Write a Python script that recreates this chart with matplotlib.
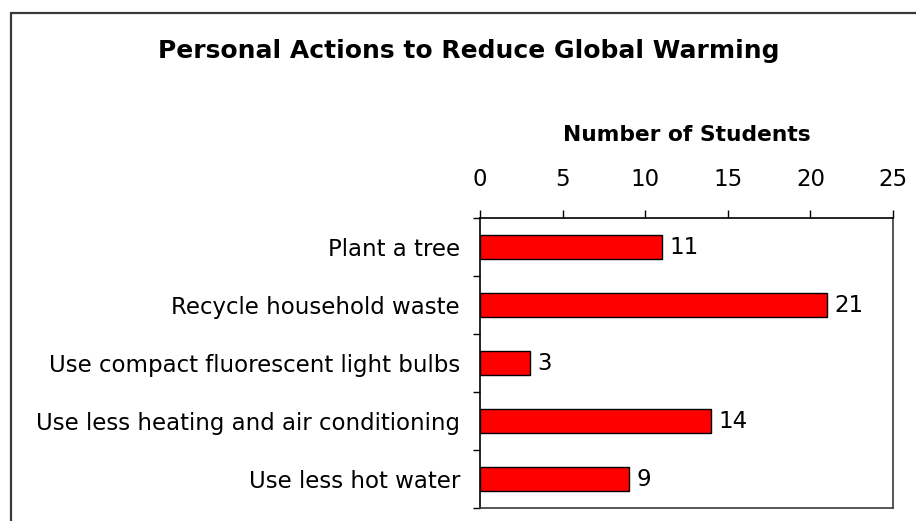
import matplotlib
matplotlib.use("Agg")
import matplotlib.pyplot as plt
from matplotlib.patches import Rectangle
from matplotlib.ticker import FixedLocator, NullFormatter

categories = ["Plant a tree", "Recycle household waste",
              "Use compact fluorescent light bulbs",
              "Use less heating and air conditioning", "Use less hot water"]
values = [11, 21, 3, 14, 9]
x_ticks = [0, 5, 10, 15, 20, 25]
title = "Personal Actions to Reduce Global Warming"
x_label = "Number of Students"

plt.rcParams['font.family'] = ['DejaVu Sans']
W, H = 916, 521
fig = plt.figure(figsize=(W / 100, H / 100), dpi=100)

# outer chart border (cropped at right and bottom)
fig.patches.append(Rectangle((11 / W, -0.2), 1.2, 1 - 13 / H + 0.2,
                             transform=fig.transFigure, fill=False,
                             edgecolor='#3a3a3a', linewidth=1.6))

L, R, T, B = 480, 893, 218, 508
ax = fig.add_axes([L / W, 1 - B / H, (R - L) / W, (B - T) / H])

pos = list(range(len(categories)))
bars = ax.barh(pos, values, height=0.4, color='#ff0000',
               edgecolor='black', linewidth=1.0)
ax.set_xlim(0, 25)
ax.set_ylim(len(categories) - 0.5, -0.5)

ax.xaxis.tick_top()
ax.set_xticks(x_ticks)
ax.set_xticklabels([str(t) for t in x_ticks])
ax.tick_params(axis='x', direction='out', length=5.8, width=1.0,
               pad=14, labelsize=16.5, colors='black')

ax.yaxis.set_major_locator(FixedLocator([p - 0.5 for p in pos] + [len(pos) - 0.5]))
ax.yaxis.set_major_formatter(NullFormatter())
ax.set_yticks(pos, minor=True)
ax.set_yticklabels(categories, minor=True)
ax.tick_params(axis='y', which='major', direction='out', length=5, width=1.0)
ax.tick_params(axis='y', which='minor', length=0, pad=14.4, labelsize=16.5)

for s in ax.spines.values():
    s.set_linewidth(1.2)
    s.set_color('black')
ax.spines['right'].set_color('#3a3a3a')
ax.spines['bottom'].set_color('#3a3a3a')

ax.bar_label(bars, labels=[str(v) for v in values], padding=5.5, fontsize=16.5)

fig.text(469 / W, 1 - 58 / H, title, ha='center', va='baseline',
         fontsize=18, fontweight='bold')
fig.text((L + R) / 2 / W, 1 - 141 / H, x_label, ha='center', va='baseline',
         fontsize=15.7, fontweight='bold')

fig.savefig("out.png", dpi=100, facecolor='white')
